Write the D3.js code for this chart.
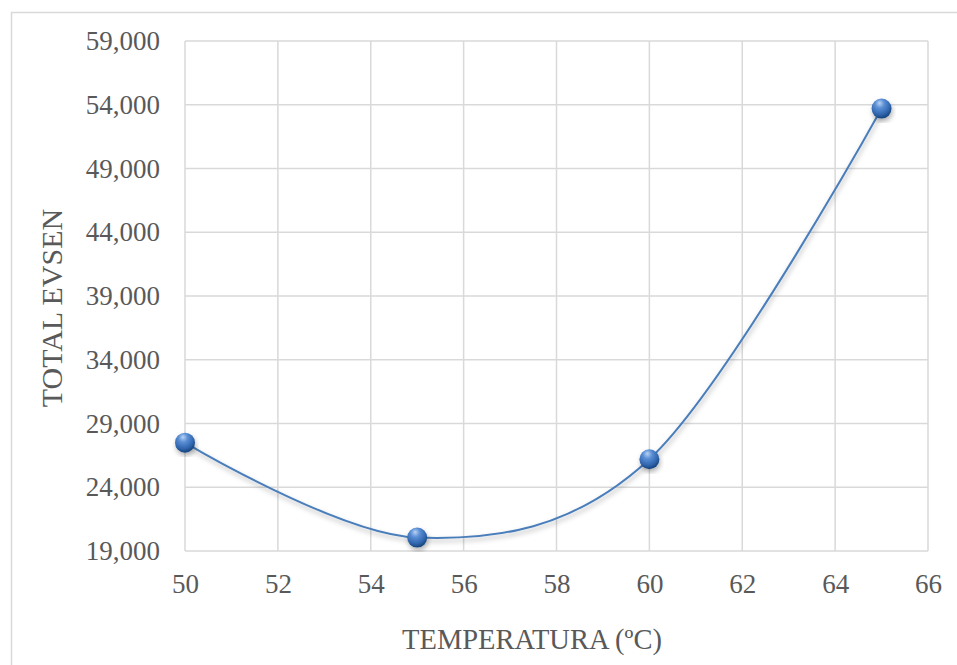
<!DOCTYPE html>
<html>
<head>
<meta charset="utf-8">
<script src="https://cdn.jsdelivr.net/npm/d3@7"></script>
<style>
  body { margin: 0; background: #fff; }
  text { font-family: "Liberation Serif", "Times New Roman", serif; fill: #595959; }
</style>
</head>
<body>
<div id="chart"></div>
<script>
// data
var temps = [50, 55, 60, 65];
var evsen = [27500, 20050, 26200, 53700];
var xTicks = [50, 52, 54, 56, 58, 60, 62, 64, 66];
var yTicks = [19000, 24000, 29000, 34000, 39000, 44000, 49000, 54000, 59000];

var svgWidth = 957;
var svgHeight = 665;
var margin = { top: 41, right: 29, bottom: 114, left: 185 };
var width = svgWidth - margin.left - margin.right;
var height = svgHeight - margin.top - margin.bottom;

var svg = d3.select("#chart").append("svg")
  .attr("width", svgWidth)
  .attr("height", svgHeight);

var defs = svg.append("defs");
var grad = defs.append("radialGradient")
  .attr("id", "ball")
  .attr("cx", "42%").attr("cy", "30%").attr("r", "65%")
  .attr("fx", "40%").attr("fy", "22%");
grad.append("stop").attr("offset", "0%").attr("stop-color", "#b9d3f2");
grad.append("stop").attr("offset", "35%").attr("stop-color", "#5b8fd6");
grad.append("stop").attr("offset", "80%").attr("stop-color", "#2f65ad");
grad.append("stop").attr("offset", "100%").attr("stop-color", "#1d4a86");

var shadow = defs.append("filter").attr("id", "shadow")
  .attr("x", "-20%").attr("y", "-20%").attr("width", "140%").attr("height", "140%");
shadow.append("feDropShadow")
  .attr("dx", 1).attr("dy", 3).attr("stdDeviation", 2.5)
  .attr("flood-color", "#000").attr("flood-opacity", 0.3);

// outer chart border (only left and top visible)
svg.append("path")
  .attr("d", "M11.5," + svgHeight + " V12.5 H" + svgWidth)
  .attr("fill", "none")
  .attr("stroke", "#d9d9d9")
  .attr("stroke-width", 1.5);

var chartGroup = svg.append("g")
  .attr("transform", `translate(${margin.left}, ${margin.top})`);

var x = d3.scaleLinear().domain([50, 66]).range([0, width]);
var y = d3.scaleLinear().domain([19000, 59000]).range([height, 0]);

// grid
chartGroup.selectAll(".vgrid").data(xTicks).enter()
  .append("line")
  .attr("x1", d => x(d)).attr("x2", d => x(d))
  .attr("y1", 0).attr("y2", height)
  .attr("stroke", "#d9d9d9").attr("stroke-width", 1.5);

chartGroup.selectAll(".hgrid").data(yTicks).enter()
  .append("line")
  .attr("x1", 0).attr("x2", width)
  .attr("y1", d => y(d)).attr("y2", d => y(d))
  .attr("stroke", "#d9d9d9").attr("stroke-width", 1.5);

// axes
var fmt = d3.format(",");
var xAxis = d3.axisBottom(x).tickValues(xTicks).tickSize(0).tickPadding(23);
var yAxis = d3.axisLeft(y).tickValues(yTicks).tickSize(0).tickPadding(25).tickFormat(fmt);

var gx = chartGroup.append("g")
  .attr("transform", `translate(0, ${height})`)
  .call(xAxis);
var gy = chartGroup.append("g").call(yAxis);

[gx, gy].forEach(function(g) {
  g.select(".domain").remove();
  g.selectAll("text")
    .attr("font-family", "Liberation Serif, serif")
    .attr("font-size", 27)
    .attr("fill", "#595959");
});

// axis titles
svg.append("text")
  .attr("x", 532)
  .attr("y", 649)
  .attr("text-anchor", "middle")
  .attr("font-size", 28.5)
  .text("TEMPERATURA (ºC)");

svg.append("text")
  .attr("transform", "translate(62, 308) rotate(-90)")
  .attr("text-anchor", "middle")
  .attr("font-size", 30)
  .text("TOTAL EVSEN");

// series
var points = temps.map((t, i) => ({ t: t, v: evsen[i] }));

var line = d3.line()
  .x(d => x(d.t))
  .y(d => y(d.v))
  .curve(d3.curveCatmullRom.alpha(0));

chartGroup.append("path")
  .datum(points)
  .attr("d", line)
  .attr("fill", "none")
  .attr("stroke", "#4a7ebb")
  .attr("stroke-width", 2)
  .attr("filter", "url(#shadow)");

chartGroup.selectAll(".pt").data(points).enter()
  .append("circle")
  .attr("cx", d => x(d.t))
  .attr("cy", d => y(d.v))
  .attr("r", 10)
  .attr("fill", "url(#ball)")
  .attr("filter", "url(#shadow)");
</script>
</body>
</html>
